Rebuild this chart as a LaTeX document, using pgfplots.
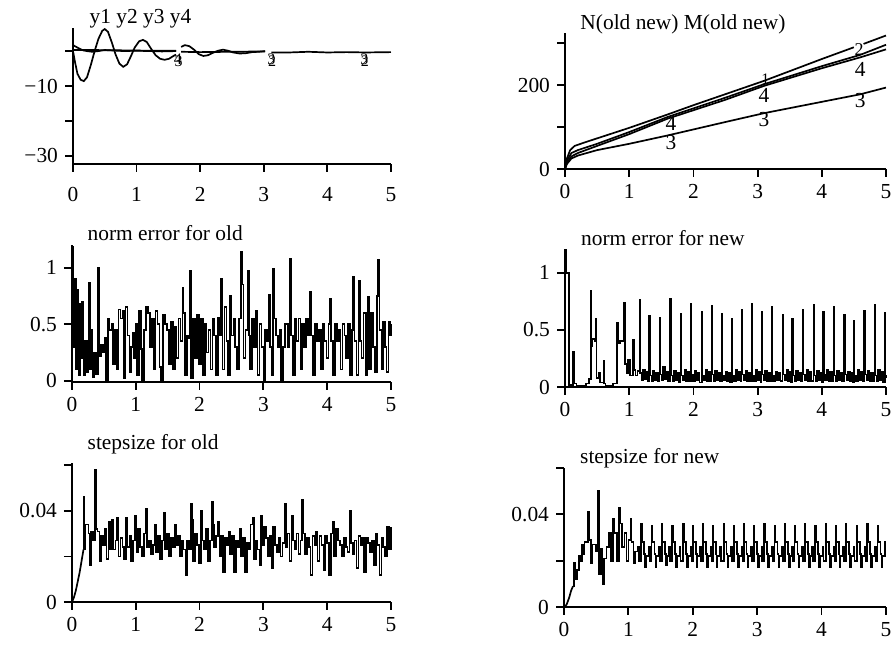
\documentclass[border=0pt]{standalone}
\usepackage{fontspec}
\setmainfont{Liberation Serif}
\usepackage{pgfplots}
\pgfplotsset{compat=1.18}
\pgfplotsset{panel/.style={
  scale only axis, anchor=south west,
  xmin=0, xmax=5, xtick={0,1,2,3,4,5}, xticklabels={0,1,2,3,4,5},
  axis x line=bottom, axis y line=left, axis line style={-, line width=0.9pt},
  tick align=outside, major tick length=4pt, tick style={line width=0.9pt, black},
  every tick label/.append style={font=\fontsize{10.7}{13}\selectfont},
  scaled y ticks=false, clip=false,
  cycle list={{black,mark=none}},
  every axis plot post/.append style={line width=0.85pt, black, mark=none},
}}
\begin{document}
\begin{tikzpicture}[font=\fontsize{10.7}{13}\selectfont]
\useasboundingbox (0,0) rectangle (448pt,324.5pt);
% ---------- top left
\begin{axis}[panel, at={(36.5pt,242.5pt)}, width=159pt, height=68pt,
  xticklabel style={yshift=-4pt},
  ymin=-32.3, ymax=6.6, ytick={-30,-20,-10,0}, yticklabels={−30,,−10,}]
\addplot coordinates {(0,0)(0.03,-3)(0.07,-6.5)(0.12,-8.2)(0.17,-8.6)(0.22,-7.5)(0.28,-4)(0.34,0)(0.40,3.5)(0.46,5.8)(0.50,6.3)(0.55,5.5)(0.61,2.5)(0.67,-1)(0.73,-3.6)(0.79,-4.5)(0.85,-3.8)(0.91,-1.5)(0.97,1)(1.04,2.8)(1.10,3.2)(1.16,2.6)(1.23,0.6)(1.30,-1.2)(1.37,-2.2)(1.44,-2.5)(1.51,-2.2)(1.58,-1.4)(1.62,-1.0)};
\addplot coordinates {(1.70,1.2)(1.76,1.7)(1.83,1.4)(1.91,0.3)(1.98,-0.9)(2.05,-1.4)(2.12,-1.2)(2.20,-0.5)(2.28,0.1)(2.36,0.4)(2.44,0.1)(2.52,-0.4)(2.62,-0.7)(2.72,-0.6)(2.82,-0.3)(2.92,-0.2)(3.02,0.0)};
\addplot coordinates {(3.12,-0.4)(3.4,-0.4)(3.7,-0.2)(4.0,-0.4)(4.3,-0.3)(4.6,-0.4)(5,-0.3)};
\addplot coordinates {(0,1.7)(0.05,1.2)(0.1,0.7)(0.16,0.2)(0.22,0)(0.3,-0.2)(0.4,0)(0.5,0.3)(0.6,0.2)(0.8,0)(1.0,0.1)(1.2,0)(1.4,-0.1)(1.62,0)};
\addplot coordinates {(1.7,-0.2)(2.0,-0.3)(2.5,-0.2)(3.02,-0.1)};
\addplot coordinates {(0,0.3)(0.3,0.3)(0.8,0.2)(1.2,0.1)(1.62,0.1)};
\node[font=\fontsize{8}{9}\selectfont] at (axis cs:1.65,-2.4) {4};
\node[font=\fontsize{8}{9}\selectfont] at (axis cs:1.66,-3.0) {3};
\node[font=\fontsize{8}{9}\selectfont] at (axis cs:3.12,-2.4) {3};
\node[font=\fontsize{8}{9}\selectfont] at (axis cs:3.13,-3.0) {2};
\node[font=\fontsize{8}{9}\selectfont] at (axis cs:4.58,-2.4) {3};
\node[font=\fontsize{8}{9}\selectfont] at (axis cs:4.59,-3.0) {2};
\node[anchor=base west, inner sep=0pt] at (rel axis cs:0.051,1.035) {y1 y2 y3 y4};
\end{axis}
% ---------- top right
\begin{axis}[panel, at={(282.5pt,240pt)}, width=160.5pt, height=68pt,
  ymin=0, ymax=324, ytick={0,100,200,300}, yticklabels={0,,200,}]
\addplot coordinates {(0,0)(0.03,25)(0.08,45)(0.15,55)(0.3,63)(0.6,78)(1,98)(1.6,130)(2,152)(3.1,210)(4,262)(4.5,290)};
\addplot coordinates {(4.65,298)(5,318)};
\addplot coordinates {(0,0)(0.03,20)(0.1,38)(0.2,45)(0.5,60)(1,88)(1.6,124)(2.5,170)(3.1,202)(4,245)(4.6,272)(5,296)};
\addplot coordinates {(0,0)(0.03,15)(0.1,30)(0.2,38)(0.5,55)(1,83)(1.6,120)(2.5,165)(3.1,198)(4,240)(4.6,266)(5,285)};
\addplot coordinates {(0,0)(0.03,12)(0.1,25)(0.2,32)(0.5,45)(1,60)(1.6,80)(2.5,112)(3.1,133)(4,160)(4.6,178)(5,194)};
\node at (axis cs:1.65,62) {3};
\node at (axis cs:3.1,117) {3};
\node at (axis cs:4.6,164) {3};
\node at (axis cs:1.65,108) {4};
\node at (axis cs:3.1,175) {4};
\node at (axis cs:4.6,236) {4};
\node[font=\fontsize{8}{9}\selectfont] at (axis cs:3.12,214) {1};
\node[font=\fontsize{9}{10}\selectfont] at (axis cs:4.58,284) {2};
\node[anchor=base west, inner sep=0pt] at (rel axis cs:0.047,1.027) {N(old new) M(old new)};
\end{axis}
% ---------- middle left
\begin{axis}[panel, at={(36pt,133.5pt)}, width=159.5pt, height=68.5pt,
  ymin=-0.01, ymax=1.2, ytick={0,0.5,1}, yticklabels={0,0.5,1}]
\addplot[const plot] coordinates {
(0.00,1.18)(0.02,0.30)(0.04,0.90)(0.06,0.10)(0.08,0.80)(0.10,0.05)(0.12,0.68)(0.14,0.20)(0.16,0.70)(0.18,0.05)
(0.20,0.35)(0.23,0.08)(0.26,0.87)(0.28,0.10)(0.30,0.45)(0.32,0.03)(0.35,0.25)(0.38,0.06)(0.41,1.00)(0.43,0.22)
(0.46,0.32)(0.49,0.25)(0.51,0.38)(0.53,0.00)(0.56,0.55)(0.59,0.45)(0.62,0.50)(0.64,0.15)(0.67,0.45)(0.70,0.10)
(0.73,0.63)(0.76,0.55)(0.79,0.62)(0.81,0.02)(0.84,0.65)(0.87,0.40)(0.90,0.08)(0.92,0.30)(0.95,0.42)(0.97,0.20)
(1.00,0.50)(1.02,0.05)(1.05,0.62)(1.08,0.28)(1.10,0.00)(1.13,0.45)(1.16,0.65)(1.19,0.60)(1.22,0.30)(1.25,0.55)
(1.28,0.10)(1.31,0.62)(1.34,0.50)(1.37,0.12)(1.40,0.00)(1.43,0.58)(1.46,0.50)(1.49,0.45)(1.52,0.15)(1.55,0.52)
(1.58,0.10)(1.61,0.48)(1.64,0.20)(1.67,0.55)(1.70,0.35)(1.73,0.82)(1.75,0.60)(1.77,0.05)(1.80,0.40)(1.82,0.38)
(1.85,0.97)(1.87,0.02)(1.90,0.55)(1.93,0.20)(1.96,0.58)(1.99,0.15)(2.02,0.55)(2.05,0.05)(2.08,0.50)(2.11,0.25)
(2.14,0.45)(2.17,0.10)(2.20,0.55)(2.23,0.40)(2.26,0.05)(2.29,0.56)(2.32,0.40)(2.34,0.90)(2.36,0.10)(2.39,0.65)
(2.42,0.35)(2.45,0.05)(2.48,0.75)(2.50,0.40)(2.53,0.55)(2.56,0.30)(2.59,0.10)(2.62,0.55)(2.65,1.14)(2.67,0.85)
(2.69,0.20)(2.72,0.45)(2.75,0.97)(2.77,0.40)(2.79,0.10)(2.82,0.55)(2.85,0.30)(2.88,0.62)(2.91,0.05)(2.94,0.50)
(2.97,0.30)(3.00,0.00)(3.03,0.45)(3.06,0.35)(3.08,0.76)(3.10,0.30)(3.13,0.05)(3.15,0.99)(3.17,0.55)(3.20,0.40)
(3.23,0.30)(3.26,0.45)(3.28,0.00)(3.31,0.30)(3.34,0.50)(3.39,0.30)(3.41,1.08)(3.43,0.40)(3.46,0.05)(3.49,0.55)
(3.52,0.35)(3.55,0.55)(3.58,0.10)(3.61,0.50)(3.64,0.30)(3.67,0.55)(3.70,0.40)(3.73,0.79)(3.75,0.40)(3.78,0.05)
(3.81,0.50)(3.84,0.35)(3.87,0.45)(3.90,0.10)(3.93,0.50)(3.96,0.35)(3.99,0.20)(4.02,0.50)(4.04,0.72)(4.06,0.35)
(4.09,0.05)(4.12,0.50)(4.15,0.35)(4.18,0.45)(4.21,0.10)(4.24,0.50)(4.27,0.40)(4.30,0.20)(4.33,0.50)(4.36,0.05)
(4.39,0.45)(4.41,0.92)(4.43,0.35)(4.46,0.05)(4.49,0.88)(4.51,0.35)(4.54,0.20)(4.57,0.60)(4.60,0.05)(4.62,0.60)
(4.64,0.74)(4.66,0.10)(4.69,0.60)(4.72,0.30)(4.75,0.08)(4.78,0.75)(4.80,1.07)(4.82,0.45)(4.85,0.10)(4.88,0.52)
(4.91,0.30)(4.93,0.08)(4.96,0.52)(4.98,0.40)(5.00,0.50)};
\node[anchor=base west, inner sep=0pt] at (rel axis cs:0.048,1.031) {norm error for old};
\end{axis}
% ---------- middle right
\begin{axis}[panel, at={(282.5pt,131pt)}, width=160.5pt, height=68.5pt,
  ymin=0, ymax=1.2, ytick={0,0.5,1}, yticklabels={0,0.5,1}]
\addplot[const plot] coordinates {
(0,0)(0.005,1.2)(0.012,1.0)(0.06,0.0)(0.09,0.02)(0.13,0.31)(0.145,0.03)(0.18,0.01)(0.33,0.03)(0.37,0.07)
(0.40,0.84)(0.41,0.36)(0.43,0.42)(0.46,0.40)(0.48,0.60)(0.49,0.08)(0.52,0.12)(0.55,0.04)(0.60,0.23)(0.61,0.03)
(0.63,0.01)(0.75,0.03)(0.81,0.56)(0.83,0.38)(0.86,0.40)(0.92,0.74)(0.93,0.20)(0.96,0.12)(0.98,0.24)(1.01,0.10)
(1.06,0.41)(1.07,0.15)(1.10,0.10)(1.13,0.14)
(1.16,0.76)(1.17,0.12)(1.195,0.06)(1.22,0.15)(1.245,0.07)(1.27,0.13)(1.295,0.05)
(1.31,0.62)(1.32,0.10)(1.345,0.05)(1.37,0.14)(1.395,0.06)(1.42,0.12)(1.445,0.05)
(1.47,0.61)(1.48,0.11)(1.505,0.06)(1.53,0.18)(1.555,0.07)(1.58,0.13)(1.605,0.05)
(1.64,0.77)(1.65,0.10)(1.675,0.05)(1.70,0.14)(1.725,0.06)(1.75,0.12)(1.775,0.04)
(1.80,0.64)(1.81,0.10)(1.835,0.06)(1.86,0.15)(1.885,0.05)(1.91,0.13)(1.935,0.05)
(1.96,0.73)(1.97,0.11)(1.995,0.05)(2.02,0.14)(2.045,0.06)(2.07,0.12)(2.095,0.04)
(2.13,0.66)(2.14,0.10)(2.165,0.06)(2.19,0.15)(2.215,0.05)(2.24,0.13)(2.265,0.05)
(2.28,0.71)(2.29,0.11)(2.315,0.05)(2.34,0.14)(2.365,0.06)(2.39,0.12)(2.415,0.05)
(2.44,0.64)(2.45,0.10)(2.475,0.06)(2.50,0.13)(2.525,0.05)(2.55,0.12)(2.575,0.04)
(2.60,0.60)(2.61,0.10)(2.635,0.05)(2.66,0.15)(2.685,0.06)(2.71,0.13)(2.735,0.05)
(2.75,0.68)(2.76,0.11)(2.785,0.06)(2.81,0.14)(2.835,0.05)(2.86,0.12)(2.885,0.05)
(2.91,0.73)(2.92,0.10)(2.945,0.05)(2.97,0.15)(2.995,0.06)(3.02,0.13)(3.045,0.04)
(3.06,0.66)(3.07,0.11)(3.095,0.06)(3.12,0.14)(3.145,0.05)(3.17,0.12)(3.195,0.05)
(3.22,0.70)(3.23,0.10)(3.255,0.05)(3.28,0.13)(3.305,0.06)(3.33,0.12)(3.355,0.05)
(3.39,0.63)(3.40,0.11)(3.425,0.06)(3.45,0.15)(3.475,0.05)(3.50,0.13)(3.525,0.04)
(3.54,0.60)(3.55,0.10)(3.575,0.05)(3.60,0.14)(3.625,0.06)(3.65,0.12)(3.675,0.05)
(3.70,0.68)(3.71,0.11)(3.735,0.06)(3.76,0.15)(3.785,0.05)(3.81,0.13)(3.835,0.05)
(3.87,0.72)(3.88,0.10)(3.905,0.05)(3.93,0.14)(3.955,0.06)(3.98,0.12)(4.005,0.04)
(4.02,0.66)(4.03,0.11)(4.055,0.06)(4.08,0.15)(4.105,0.05)(4.13,0.13)(4.155,0.05)
(4.18,0.70)(4.19,0.10)(4.215,0.05)(4.24,0.14)(4.265,0.06)(4.29,0.12)(4.315,0.05)
(4.35,0.63)(4.36,0.11)(4.385,0.06)(4.41,0.13)(4.435,0.05)(4.46,0.12)(4.485,0.04)
(4.50,0.58)(4.51,0.10)(4.535,0.05)(4.56,0.15)(4.585,0.06)(4.61,0.13)(4.635,0.05)
(4.66,0.67)(4.67,0.11)(4.695,0.06)(4.72,0.14)(4.745,0.05)(4.77,0.12)(4.795,0.05)
(4.82,0.72)(4.83,0.10)(4.855,0.05)(4.88,0.15)(4.905,0.06)(4.93,0.13)(4.955,0.04)
(4.98,0.65)(4.99,0.10)(5.00,0.08)};
\node[anchor=base west, inner sep=0pt] at (rel axis cs:0.049,1.03) {norm error for new};
\end{axis}
% ---------- bottom left
\begin{axis}[panel, at={(36pt,23.5pt)}, width=159.5pt, height=69.5pt,
  ymin=0, ymax=0.061, ytick={0,0.02,0.04,0.06}, yticklabels={0,,0.04,}]
\addplot coordinates {(0,0)(0.03,0.002)(0.06,0.005)(0.09,0.009)(0.12,0.013)(0.15,0.018)(0.18,0.023)};
\addplot[const plot] coordinates {
(0.18,0.046)(0.19,0.023)(0.21,0.034)(0.26,0.030)(0.28,0.016)(0.30,0.031)(0.33,0.027)(0.36,0.058)(0.375,0.032)(0.40,0.031)
(0.43,0.018)(0.46,0.029)(0.49,0.025)(0.52,0.032)(0.54,0.019)(0.57,0.035)(0.60,0.023)(0.63,0.036)(0.65,0.023)(0.68,0.027)
(0.71,0.037)(0.73,0.020)(0.76,0.028)(0.79,0.024)(0.82,0.019)(0.85,0.037)(0.87,0.024)(0.90,0.029)(0.93,0.018)(0.96,0.027)
(0.99,0.038)(1.01,0.022)(1.04,0.032)(1.07,0.024)(1.10,0.020)(1.13,0.030)(1.16,0.041)(1.18,0.024)(1.21,0.027)(1.24,0.021)
(1.27,0.025)(1.30,0.034)(1.32,0.022)(1.35,0.029)(1.38,0.019)(1.41,0.027)(1.44,0.039)(1.46,0.023)(1.49,0.030)(1.52,0.020)
(1.55,0.028)(1.58,0.024)(1.61,0.034)(1.63,0.025)(1.66,0.029)(1.69,0.020)(1.72,0.027)(1.75,0.023)(1.78,0.012)(1.80,0.027)
(1.83,0.023)(1.86,0.043)(1.88,0.036)(1.90,0.018)(1.93,0.030)(1.96,0.025)(1.99,0.017)(2.02,0.040)(2.04,0.027)(2.07,0.023)
(2.10,0.032)(2.13,0.018)(2.16,0.027)(2.19,0.044)(2.21,0.034)(2.23,0.024)(2.26,0.029)(2.29,0.035)(2.31,0.020)(2.34,0.029)
(2.37,0.013)(2.40,0.028)(2.43,0.025)(2.46,0.031)(2.48,0.021)(2.51,0.029)(2.54,0.013)(2.57,0.027)(2.60,0.024)(2.63,0.032)
(2.65,0.020)(2.68,0.028)(2.71,0.013)(2.74,0.026)(2.77,0.023)(2.80,0.034)(2.83,0.037)(2.85,0.019)(2.88,0.027)(2.91,0.023)
(2.94,0.016)(2.96,0.038)(2.98,0.025)(3.01,0.033)(3.04,0.028)(3.07,0.020)(3.10,0.029)(3.13,0.015)(3.15,0.033)(3.18,0.025)
(3.21,0.022)(3.24,0.028)(3.27,0.020)(3.30,0.026)(3.33,0.043)(3.35,0.024)(3.38,0.030)(3.41,0.018)(3.44,0.038)(3.46,0.027)
(3.49,0.023)(3.52,0.030)(3.55,0.021)(3.58,0.027)(3.60,0.045)(3.62,0.030)(3.65,0.021)(3.68,0.028)(3.71,0.024)(3.74,0.012)
(3.77,0.029)(3.80,0.025)(3.83,0.031)(3.85,0.018)(3.88,0.029)(3.91,0.025)(3.94,0.014)(3.97,0.029)(4.00,0.026)(4.03,0.012)
(4.06,0.030)(4.09,0.035)(4.11,0.020)(4.14,0.032)(4.17,0.027)(4.20,0.025)(4.23,0.020)(4.26,0.028)(4.29,0.024)(4.32,0.022)
(4.35,0.040)(4.37,0.026)(4.40,0.021)(4.43,0.027)(4.46,0.015)(4.49,0.029)(4.52,0.025)(4.55,0.028)(4.58,0.013)(4.61,0.028)
(4.64,0.026)(4.67,0.022)(4.70,0.027)(4.73,0.016)(4.76,0.030)(4.79,0.025)(4.82,0.012)(4.85,0.028)(4.88,0.024)(4.91,0.020)
(4.94,0.033)(4.97,0.023)(5.00,0.033)};
\node[anchor=base west, inner sep=0pt] at (rel axis cs:0.048,1.099) {stepsize for old};
\end{axis}
% ---------- bottom right
\begin{axis}[panel, at={(282pt,21pt)}, width=161pt, height=69.5pt,
  ymin=0, ymax=0.06, ytick={0,0.02,0.04,0.06}, yticklabels={0,,0.04,}]
\addplot coordinates {(0,0)(0.04,0.001)(0.08,0.004)(0.11,0.007)(0.14,0.009)};
\addplot[const plot] coordinates {
(0.14,0.009)(0.16,0.019)(0.175,0.012)(0.2,0.016)(0.23,0.022)(0.25,0.020)(0.28,0.027)(0.30,0.023)(0.32,0.028)(0.37,0.041)
(0.39,0.029)(0.42,0.019)(0.44,0.027)(0.50,0.024)(0.53,0.050)(0.545,0.014)(0.57,0.025)(0.60,0.010)(0.62,0.021)(0.66,0.026)
(0.70,0.032)(0.73,0.020)(0.76,0.038)(0.78,0.032)(0.82,0.020)(0.85,0.043)(0.87,0.036)(0.90,0.026)(0.94,0.032)(0.97,0.020)
(1.00,0.029)(1.04,0.038)(1.05,0.028)(1.08,0.019)(1.10,0.024)(1.15,0.026)(1.17,0.020)
(1.20,.036)(1.208,.028)(1.245,.023)(1.26,.017)(1.275,.022)(1.315,.026)(1.33,.020)
(1.36,.035)(1.368,.028)(1.405,.023)(1.42,.017)(1.435,.022)(1.475,.026)(1.49,.020)
(1.52,.036)(1.528,.028)(1.565,.023)(1.58,.018)(1.595,.022)(1.635,.026)(1.65,.020)
(1.68,.035)(1.688,.028)(1.725,.023)(1.74,.017)(1.755,.022)(1.795,.026)(1.81,.020)
(1.85,.036)(1.858,.028)(1.895,.023)(1.91,.017)(1.925,.022)(1.965,.026)(1.98,.020)
(2.00,.035)(2.008,.028)(2.045,.023)(2.06,.017)(2.075,.022)(2.115,.026)(2.13,.020)
(2.16,.036)(2.168,.028)(2.205,.023)(2.22,.017)(2.235,.022)(2.275,.026)(2.29,.020)
(2.31,.035)(2.318,.028)(2.355,.023)(2.37,.017)(2.385,.022)(2.425,.026)(2.44,.020)
(2.48,.036)(2.488,.028)(2.525,.023)(2.54,.017)(2.555,.022)(2.595,.026)(2.61,.020)
(2.64,.035)(2.648,.028)(2.685,.023)(2.70,.017)(2.715,.022)(2.755,.026)(2.77,.020)
(2.79,.036)(2.798,.028)(2.835,.023)(2.85,.017)(2.865,.022)(2.905,.026)(2.92,.020)
(2.95,.035)(2.958,.028)(2.995,.023)(3.01,.017)(3.025,.022)(3.065,.026)(3.08,.020)
(3.11,.036)(3.118,.028)(3.155,.023)(3.17,.017)(3.185,.022)(3.225,.026)(3.24,.020)
(3.27,.035)(3.278,.028)(3.315,.023)(3.33,.017)(3.345,.022)(3.385,.026)(3.40,.020)
(3.43,.036)(3.438,.028)(3.475,.023)(3.49,.017)(3.505,.022)(3.545,.026)(3.56,.020)
(3.58,.035)(3.588,.028)(3.625,.023)(3.64,.017)(3.655,.022)(3.695,.026)(3.71,.020)
(3.74,.036)(3.748,.028)(3.785,.023)(3.80,.017)(3.815,.022)(3.855,.026)(3.87,.020)
(3.90,.035)(3.908,.028)(3.945,.023)(3.96,.017)(3.975,.022)(4.015,.026)(4.03,.020)
(4.07,.036)(4.078,.028)(4.115,.023)(4.13,.017)(4.145,.022)(4.185,.026)(4.20,.020)
(4.22,.035)(4.228,.028)(4.265,.023)(4.28,.017)(4.295,.022)(4.335,.026)(4.35,.020)
(4.38,.036)(4.388,.028)(4.425,.023)(4.44,.017)(4.455,.022)(4.495,.026)(4.51,.020)
(4.55,.035)(4.558,.028)(4.595,.023)(4.61,.017)(4.625,.022)(4.665,.026)(4.68,.020)
(4.71,.036)(4.718,.028)(4.755,.023)(4.77,.017)(4.785,.022)(4.825,.026)(4.84,.020)
(4.87,.035)(4.878,.028)(4.915,.023)(4.93,.017)(4.945,.022)(4.985,.028)(5.00,.028)};
\node[anchor=base west, inner sep=0pt] at (rel axis cs:0.049,1.034) {stepsize for new};
\end{axis}
\end{tikzpicture}
\end{document}
